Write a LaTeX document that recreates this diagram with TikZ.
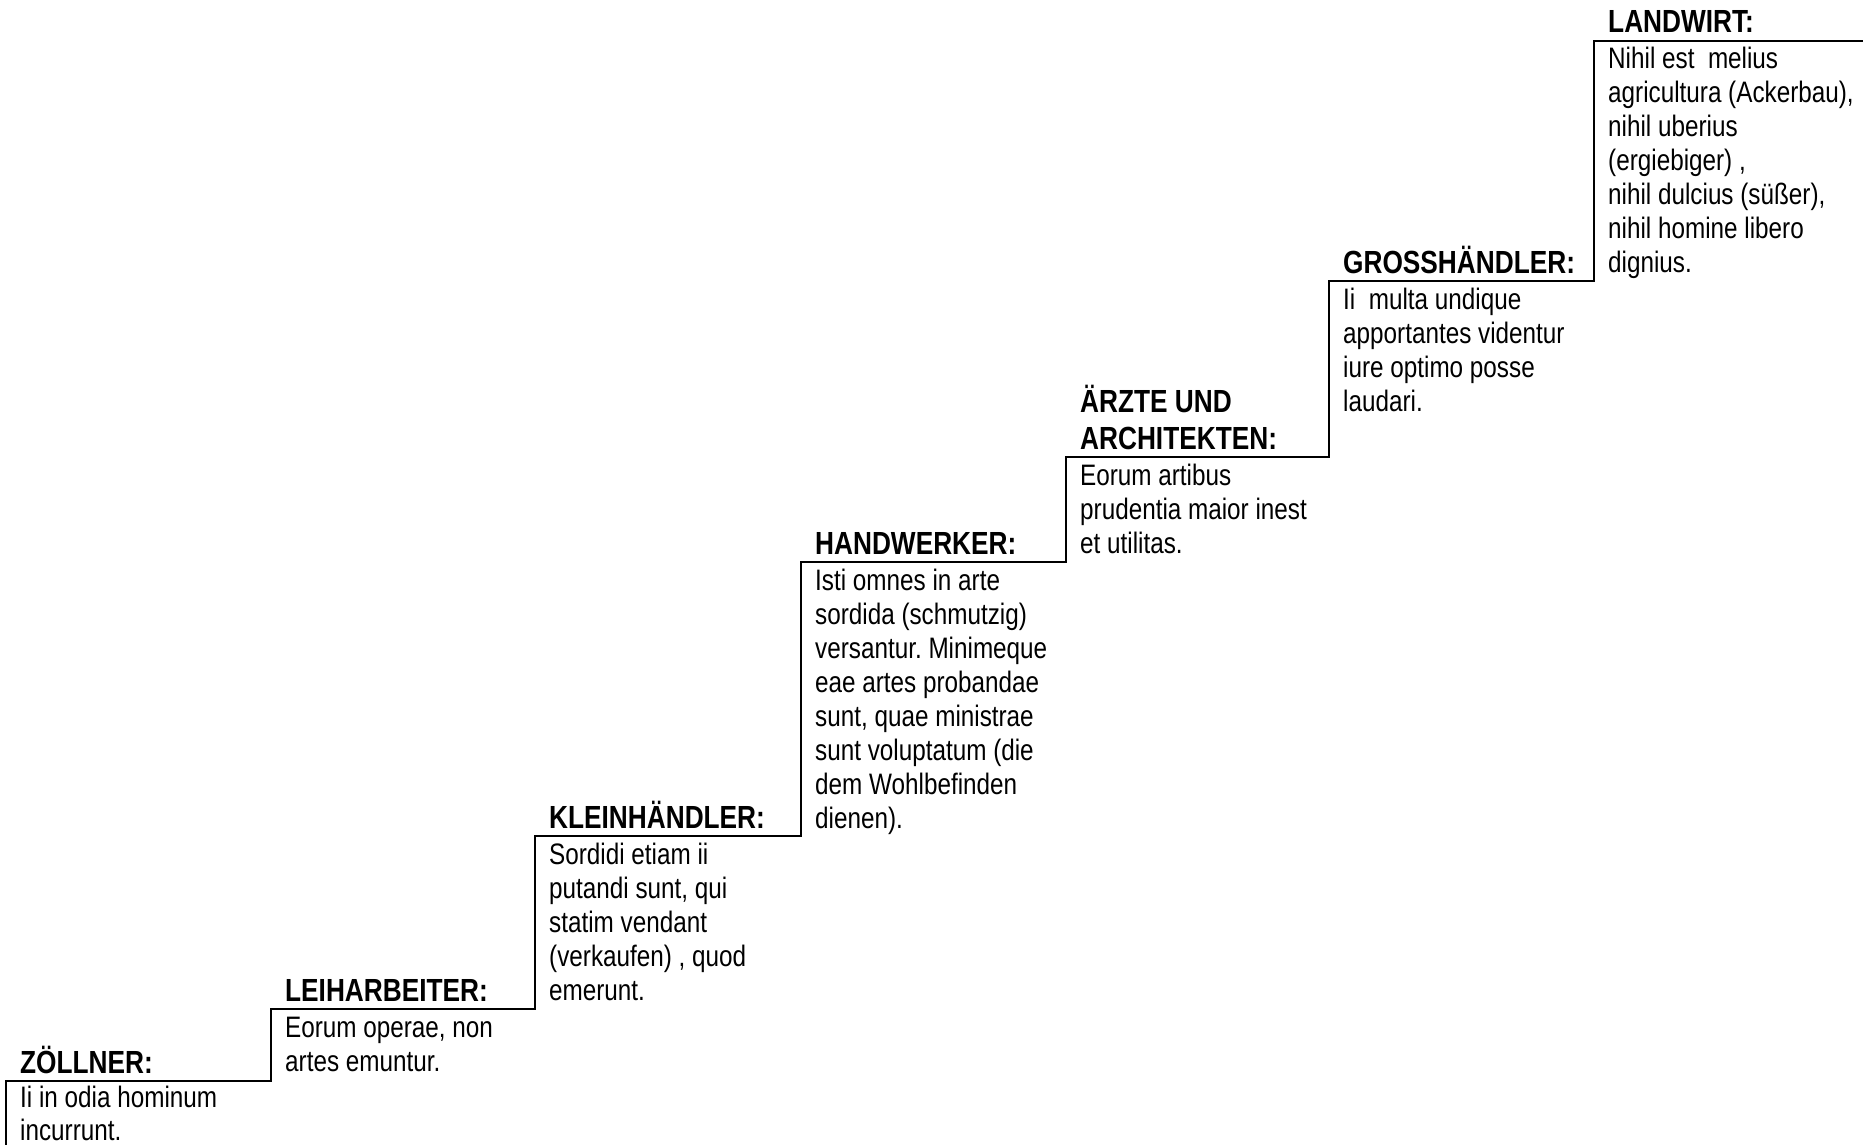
\documentclass[tikz,border=0pt]{standalone}
\usepackage{fontspec}
\setmainfont{Liberation Sans}[FakeStretch=0.82]
\frenchspacing
\tikzset{
  stair/.style={line width=1.6pt, line join=miter},
  head/.style={anchor=base west, inner sep=0pt, font=\fontsize{32}{36.8}\selectfont\bfseries},
  body/.style={anchor=base west, inner sep=0pt, font=\fontsize{29.6}{34}\selectfont},
}
\newcommand{\tlines}[1]{\parbox[t]{330pt}{\raggedright #1}}
\newcommand{\blines}[1]{\parbox[b]{330pt}{\raggedright #1}}
\begin{document}
\begin{tikzpicture}[x=1pt,y=-1pt]
\useasboundingbox (0,0) rectangle (1863,1145);
% staircase corners
\coordinate (s0) at (6,1145);
\coordinate (s1) at (271,1081);
\coordinate (s2) at (535,1009);
\coordinate (s3) at (801,836);
\coordinate (s4) at (1066,562);
\coordinate (s5) at (1329,457);
\coordinate (s6) at (1594,281);
\coordinate (s7) at (1863,41);
\draw[stair] (s0) |- (s1) |- (s2) |- (s3) |- (s4) |- (s5) |- (s6) |- (s7);

% ZÖLLNER
\node[head] (h1) at (20,1073) {ZÖLLNER:};
\node[body] (b1) at (20,1107) {\tlines{Ii in odia hominum\\[-1pt]incurrunt.}};
% LEIHARBEITER
\node[head] (h2) at (285,1001) {LEIHARBEITER:};
\node[body] (b2) at (285,1037) {\tlines{Eorum operae, non\\artes emuntur.}};
% KLEINHÄNDLER
\node[head] (h3) at (549,828) {KLEINHÄNDLER:};
\node[body] (b3) at (549,864) {\tlines{Sordidi etiam ii\\putandi sunt, qui\\statim vendant\\(verkaufen) , quod\\emerunt.}};
% HANDWERKER
\node[head] (h4) at (815,554) {HANDWERKER:};
\node[body] (b4) at (815,590) {\tlines{Isti omnes in arte\\sordida (schmutzig)\\versantur. Minimeque\\eae artes probandae\\sunt, quae ministrae\\sunt voluptatum (die\\dem Wohlbefinden\\dienen).}};
% ÄRZTE UND ARCHITEKTEN
\node[head] (h5) at (1080,449) {\blines{ÄRZTE UND\\ARCHITEKTEN:}};
\node[body] (b5) at (1080,485) {\tlines{Eorum artibus\\prudentia maior inest\\et utilitas.}};
% GROSSHÄNDLER
\node[head] (h6) at (1343,273) {GROSSHÄNDLER:};
\node[body] (b6) at (1343,309) {\tlines{Ii\ \ multa undique\\apportantes videntur\\iure optimo posse\\laudari.}};
% LANDWIRT
\node[head] (h7) at (1608,33) {LANDWIRT:};
\node[body] (b7) at (1608,69) {\tlines{Nihil est\ \ melius\\agricultura (Ackerbau),\\nihil uberius\\(ergiebiger) ,\\nihil dulcius (süßer),\\nihil homine libero\\dignius.}};
\end{tikzpicture}
\end{document}
